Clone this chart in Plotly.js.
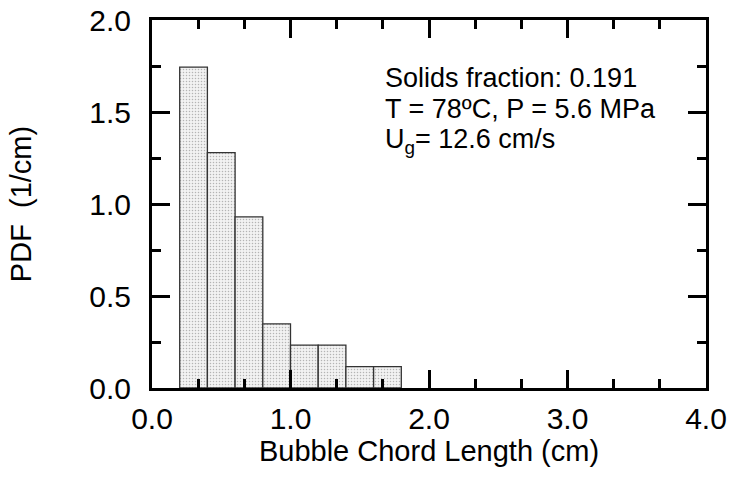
<!DOCTYPE html>
<html>
<head>
<meta charset="utf-8">
<script src="https://cdn.plot.ly/plotly-3.0.1.min.js"></script>
<style>html,body{margin:0;padding:0;background:#fff;}#chart{width:730px;height:482px;}</style>
</head>
<body>
<div id="chart"></div>
<script>
// Bin centres (cm) and probability density (1/cm)
const binCenters = [0.3, 0.5, 0.7, 0.9, 1.1, 1.3, 1.5, 1.7];
const binWidth = 0.2;
const pdfValues = [1.744, 1.279, 0.930, 0.349, 0.233, 0.233, 0.116, 0.116];
const infoLines = [
  "Solids fraction: 0.191",
  "T = 78ºC, P = 5.6 MPa",
  "U<sub>g</sub>= 12.6 cm/s"
];
const xTickVals = [0, 1, 2, 3, 4];
const yTickVals = [0, 0.5, 1.0, 1.5, 2.0];

const FONT = "Liberation Sans, Arial, sans-serif";

const trace = {
  type: "bar",
  x: binCenters,
  y: pdfValues,
  width: binCenters.map(() => binWidth),
  marker: {
    color: "#ececec",
    pattern: {shape: ".", fgcolor: "#b4b4b4", bgcolor: "#f2f2f2", size: 3, solidity: 0.2},
    line: {color: "#333333", width: 1.3}
  },
  hoverinfo: "x+y"
};

const axisCommon = {
  showgrid: false,
  zeroline: false,
  showline: true,
  linecolor: "#000",
  linewidth: 3,
  mirror: "ticks",
  ticks: "inside",
  ticklen: 18,
  tickwidth: 3,
  tickcolor: "#000",
  tickfont: {family: FONT, size: 30, color: "#000"},
  tickformat: ".1f"
};

const layout = {
  width: 730,
  height: 482,
  margin: {l: 152, r: 24, t: 20, b: 94},
  paper_bgcolor: "#fff",
  plot_bgcolor: "#fff",
  showlegend: false,
  bargap: 0,
  font: {family: FONT, size: 28, color: "#000"},
  xaxis: Object.assign({}, axisCommon, {
    range: [0, 4],
    tickvals: xTickVals,
    ticklabelstandoff: 2,
    minor: {dtick: 1/3, ticks: "inside", ticklen: 9, tickwidth: 3, tickcolor: "#000", showgrid: false},
    title: {text: "Bubble Chord Length (cm)", font: {family: FONT, size: 29, color: "#000"}, standoff: 2}
  }),
  yaxis: Object.assign({}, axisCommon, {
    range: [0, 2],
    tickvals: yTickVals,
    ticklabelstandoff: 12,
    minor: {dtick: 0.25, ticks: "inside", ticklen: 9, tickwidth: 3, tickcolor: "#000", showgrid: false},
    title: {text: "PDF  (1/cm)", font: {family: FONT, size: 29, color: "#000"}, standoff: 50}
  }),
  annotations: infoLines.map((t, i) => ({
    text: t,
    xref: "paper", yref: "paper",
    x: 0.4165, y: [0.842, 0.758, 0.672][i],
    xanchor: "left", yanchor: "middle",
    showarrow: false,
    font: {family: FONT, size: 27, color: "#000"}
  }))
};

Plotly.newPlot("chart", [trace], layout, {displayModeBar: false, staticPlot: true});
</script>
</body>
</html>
